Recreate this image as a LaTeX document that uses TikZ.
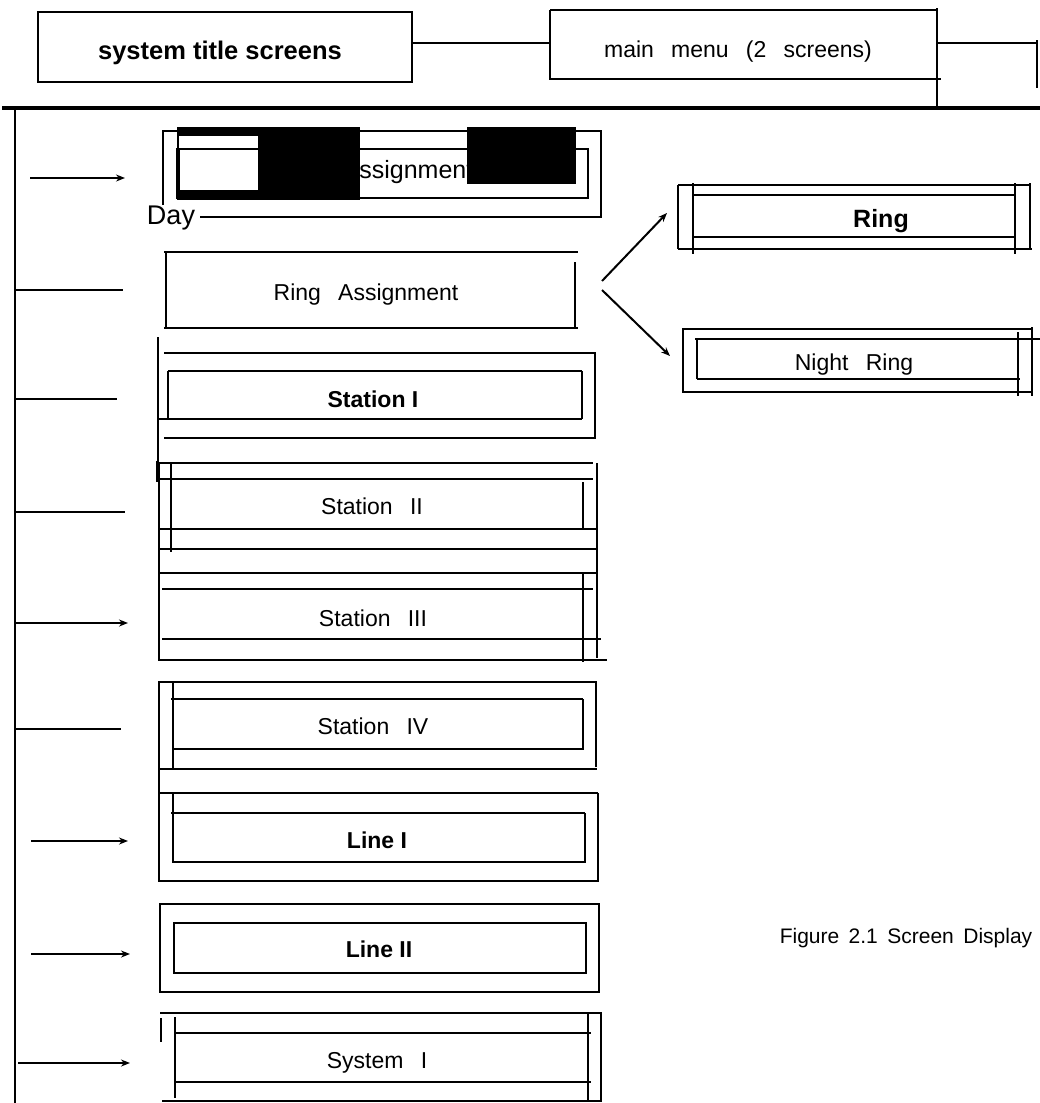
\documentclass[tikz,border=0pt]{standalone}
\usepackage{fontspec}
\setmainfont{Liberation Sans}
\usetikzlibrary{arrows.meta}
\newcommand{\wgap}{\hspace{0.75em}}
\begin{document}
\begin{tikzpicture}[x=1pt,y=-1pt,
  thinln/.style={line width=1.2pt},
  thickln/.style={line width=2.8pt},
  heavyln/.style={line width=4pt},
  arrln/.style={line width=2.6pt},
  darrln/.style={line width=2pt},
  tip/.style={-{Stealth[length=9pt,width=7pt]}},
  lbl/.style={inner sep=0pt,anchor=base,font=\fontsize{23}{27}\selectfont},
  blbl/.style={lbl,font=\fontsize{23}{27}\selectfont\bfseries}]
\useasboundingbox (0,0) rectangle (1040,1103);
\fill[white] (0,0) rectangle (1040,1103);

% ---------- top row ----------
\draw[thinln] (38,12) rectangle (412,82);
\node[blbl,font=\fontsize{25.5}{29}\selectfont\bfseries] (title) at (220,59) {system title screens};
\coordinate (titleE) at (412,43);
\coordinate (menuW) at (550,43);
\draw[thickln] (titleE) -- (menuW);
\draw[thickln] (550,10) -- (937,10);
\draw[thickln] (550,10) -- (550,79) -- (941,79);
\draw[thickln] (937,8) -- (937,107);
\node[lbl] (menu) at (738,57) {main\wgap menu\wgap (2\wgap screens)};
\coordinate (menuE) at (937,43);
\coordinate (stub) at (1037,43);
\draw[thickln] (menuE) -- (stub);
\draw[thickln] (1037,40) -- (1037,88);

% bus
\draw[heavyln] (2,108) -- (1040,108);
\draw[thickln] (15,108) -- (15,1103);

% ---------- Day Assignment ----------
\draw[thinln] (163,205) -- (163,131) -- (601,131) -- (601,217) -- (200,217);
\draw[thinln] (177,149) rectangle (588,198);
\node[lbl,font=\fontsize{25}{29}\selectfont] (dayas) at (408,178) {Assignment};
\fill[black] (177,127) rectangle (360,200);
\fill[white] (179,136) rectangle (258,190);
\draw[thinln] (177,149) -- (258,149);
\draw[thinln] (179,149) -- (179,190);
\fill[black] (467,127) rectangle (576,184);
\node[lbl,font=\fontsize{27}{31}\selectfont] (day) at (171,224) {Day};
\coordinate (a1s) at (30,178); \coordinate (a1e) at (125,178);
\draw[arrln,tip] (a1s) -- (a1e);

% ---------- Ring Assignment ----------
\draw[thickln] (164,252) -- (578,252);
\draw[thickln] (164,328) -- (578,328);
\draw[thinln] (166,252) -- (166,328);
\draw[thinln] (575,262) -- (575,328);
\node[lbl] (ringas) at (366,300) {Ring\wgap Assignment};
\coordinate (b2s) at (15,290); \coordinate (b2e) at (123,290);
\draw[thickln] (b2s) -- (b2e);
\coordinate (fork1) at (602,281); \coordinate (fork2) at (602,290);
\coordinate (ringW) at (667,213); \coordinate (nightW) at (670,356);
\draw[darrln,tip] (fork1) -- (ringW);
\draw[darrln,tip] (fork2) -- (nightW);

% ---------- Ring (right) ----------
\draw[thickln] (678,185) -- (1030,185);
\draw[thickln] (678,249) -- (1032,249);
\draw[thickln] (678,185) -- (678,249);
\draw[thickln] (693,195) -- (1015,195);
\draw[thickln] (693,237) -- (1015,237);
\draw[thickln] (693,183) -- (693,254);
\draw[thickln] (1015,183) -- (1015,254);
\draw[thickln] (1030,183) -- (1030,249);
\node[blbl,font=\fontsize{25}{29}\selectfont\bfseries] (ring) at (881,227) {Ring};

% ---------- Night Ring ----------
\draw[thickln] (683,328) -- (683,393);
\draw[thickln] (683,329) -- (1032,329);
\draw[thickln] (683,392) -- (1032,392);
\draw[thickln] (695,339) -- (1040,339);
\draw[thickln] (697,379) -- (1020,379);
\draw[thinln] (697,339) -- (697,379);
\draw[thickln] (1018,332) -- (1018,396);
\draw[thickln] (1032,327) -- (1032,396);
\node[lbl] (night) at (854,370) {Night\wgap Ring};

% ---------- Station I ----------
\draw[thickln] (158,337) -- (158,463);
\draw[thinln] (164,353) -- (595,353) -- (595,438) -- (164,438);
\draw[thickln] (168,371) -- (582,371);
\draw[thickln] (158,419) -- (582,419);
\draw[thinln] (168,371) -- (168,419);
\draw[thinln] (582,371) -- (582,419);
\node[blbl] (st1) at (373,407) {Station I};
\coordinate (b3s) at (15,399); \coordinate (b3e) at (117,399);
\draw[thickln] (b3s) -- (b3e);

% ---------- Station II / III ----------
\draw[thickln] (158,463) -- (593,463);
\draw[thickln] (158,479) -- (593,479);
\draw[thickln] (160,529) -- (597,529);
\draw[thickln] (160,549) -- (597,549);
\draw[thickln] (160,573) -- (597,573);
\draw[thickln] (162,589) -- (593,589);
\draw[thickln] (162,639) -- (601,639);
\draw[thickln] (158,660) -- (607,660);
\draw[thickln] (159,463) -- (159,660);
\draw[thickln] (171,463) -- (171,552);
\draw[thickln] (597,463) -- (597,658);
\draw[thinln] (583,482) -- (583,528);
\draw[thickln] (583,573) -- (583,662);
\draw[thinln] (157,461) -- (157,482);
\node[lbl] (st2) at (372,514) {Station\wgap II};
\node[lbl] (st3) at (373,626) {Station\wgap III};
\coordinate (b4s) at (15,512); \coordinate (b4e) at (125,512);
\draw[thickln] (b4s) -- (b4e);
\coordinate (a5s) at (15,623); \coordinate (a5e) at (128,623);
\draw[arrln,tip] (a5s) -- (a5e);

% ---------- Station IV ----------
\draw[thickln] (158,682) -- (597,682);
\draw[thickln] (159,682) -- (159,793);
\draw[thickln] (173,682) -- (173,768);
\draw[thickln] (171,699) -- (583,699);
\draw[thickln] (173,749) -- (584,749);
\draw[thinln] (583,699) -- (583,749);
\draw[thinln] (596,682) -- (596,767);
\draw[thickln] (159,769) -- (597,769);
\node[lbl] (st4) at (373,734) {Station\wgap IV};
\coordinate (b6s) at (15,729); \coordinate (b6e) at (121,729);
\draw[thickln] (b6s) -- (b6e);

% ---------- Line I ----------
\draw[thickln] (158,793) -- (598,793);
\draw[thinln] (159,793) -- (159,881) -- (598,881) -- (598,793);
\draw[thickln] (171,813) -- (585,813);
\draw[thinln] (173,813) -- (173,862) -- (585,862) -- (585,813);
\draw[thickln] (173,793) -- (173,813);
\node[blbl] (ln1) at (377,848) {Line I};
\coordinate (a7s) at (31,841); \coordinate (a7e) at (128,841);
\draw[arrln,tip] (a7s) -- (a7e);

% ---------- Line II ----------
\draw[thinln] (160,904) rectangle (599,992);
\draw[thinln] (174,923) rectangle (586,973);
\node[blbl] (ln2) at (379,957) {Line II};
\coordinate (a8s) at (31,954); \coordinate (a8e) at (130,954);
\draw[arrln,tip] (a8s) -- (a8e);

\node[lbl,font=\fontsize{21}{25}\selectfont] (caption) at (906,943) {Figure\hspace{0.45em}2.1\hspace{0.45em}Screen\hspace{0.45em}Display};

% ---------- System I ----------
\draw[thickln] (160,1013) -- (602,1013);
\draw[thickln] (601,1013) -- (601,1102);
\draw[thickln] (588,1013) -- (588,1100);
\draw[thickln] (175,1017) -- (175,1098);
\draw[thickln] (161,1018) -- (161,1042);
\draw[thickln] (175,1033) -- (591,1033);
\draw[thickln] (175,1082) -- (591,1082);
\draw[thickln] (162,1101) -- (601,1101);
\node[lbl] (sys1) at (377,1068) {System\wgap I};
\coordinate (a9s) at (18,1063); \coordinate (a9e) at (130,1063);
\draw[arrln,tip] (a9s) -- (a9e);
\end{tikzpicture}
\end{document}
